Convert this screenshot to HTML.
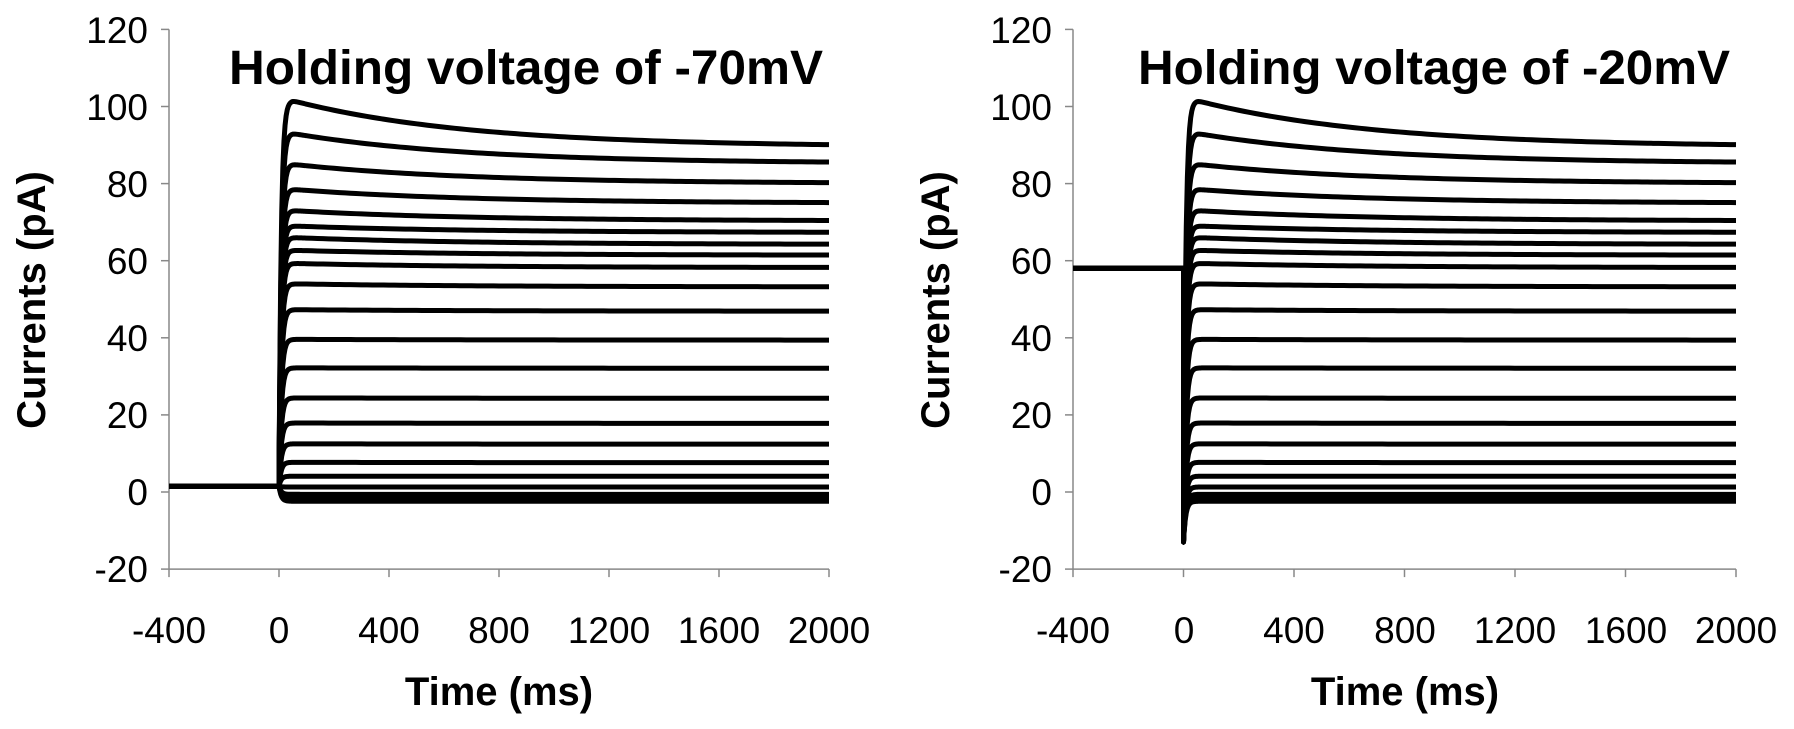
<!DOCTYPE html>
<html><head><meta charset="utf-8"><style>
html,body{margin:0;padding:0;background:#fff;}
svg{display:block;font-family:"Liberation Sans",Arial,sans-serif;}
</style></head><body>
<svg id="s" width="1794" height="729" viewBox="0 0 1794 729">
<g id="p1">
<text x="526" y="84" font-size="48" font-weight="bold" text-anchor="middle" textLength="594" lengthAdjust="spacingAndGlyphs">Holding voltage of -70mV</text>
<g font-size="37" text-anchor="end">
<text x="148" y="43">120</text><text x="148" y="120">100</text><text x="148" y="197">80</text><text x="148" y="274">60</text><text x="148" y="351">40</text><text x="148" y="428">20</text><text x="148" y="505">0</text><text x="148" y="582">-20</text>
</g>
<g font-size="37" text-anchor="middle">
<text x="169" y="643">-400</text><text x="279" y="643">0</text><text x="389" y="643">400</text><text x="499" y="643">800</text><text x="609" y="643">1200</text><text x="719" y="643">1600</text><text x="829" y="643">2000</text>
</g>
<text x="499" y="705" font-size="40" font-weight="bold" text-anchor="middle">Time (ms)</text>
<text transform="translate(45,300) rotate(-90)" font-size="40" font-weight="bold" text-anchor="middle">Currents (pA)</text>
</g>
<g id="p2">
<text x="1434" y="84" font-size="48" font-weight="bold" text-anchor="middle" textLength="592" lengthAdjust="spacingAndGlyphs">Holding voltage of -20mV</text>
<g font-size="37" text-anchor="end">
<text x="1052" y="43">120</text><text x="1052" y="120">100</text><text x="1052" y="197">80</text><text x="1052" y="274">60</text><text x="1052" y="351">40</text><text x="1052" y="428">20</text><text x="1052" y="505">0</text><text x="1052" y="582">-20</text>
</g>
<g font-size="37" text-anchor="middle">
<text x="1073" y="643">-400</text><text x="1184" y="643">0</text><text x="1294" y="643">400</text><text x="1405" y="643">800</text><text x="1515" y="643">1200</text><text x="1626" y="643">1600</text><text x="1736" y="643">2000</text>
</g>
<text x="1405" y="705" font-size="40" font-weight="bold" text-anchor="middle">Time (ms)</text>
<text transform="translate(949,300) rotate(-90)" font-size="40" font-weight="bold" text-anchor="middle">Currents (pA)</text>
</g>
</svg>
<script>
var s=document.getElementById('s'),NS='http://www.w3.org/2000/svg';
function el(t,a){var e=document.createElementNS(NS,t);for(var k in a)e.setAttribute(k,a[k]);s.appendChild(e);return e;}
var ends=[89.5,85.2,80,74.9,70.3,67.3,64.2,61.4,58.2,53.2,46.9,39.4,32.1,24.3,17.8,12.4,7.6,4.1,1.3,-0.6,-1.6,-2.4];
var peaks=[101.5,93,85,78.5,73,69,66,62.7,59.3,54,47.3,39.6,32.2,24.4,17.9,12.5,7.7,4.1,1.3,-0.6,-1.6,-2.4];
function plot(x0,x1,hold,spike){
  var Y=function(v){return 492-v*3.855;};
  var X=function(t){return x0+(t+400)*(x1-x0)/2400;};
  el('line',{x1:x0,y1:Y(120),x2:x0,y2:Y(-20),stroke:'#888','stroke-width':1.5});
  el('line',{x1:x0,y1:Y(-20),x2:x1,y2:Y(-20),stroke:'#888','stroke-width':1.5});
  for(var v=-20;v<=120;v+=20)el('line',{x1:x0-8,y1:Y(v),x2:x0,y2:Y(v),stroke:'#888','stroke-width':1.5});
  for(var t=-400;t<=2000;t+=400)el('line',{x1:X(t),y1:Y(-20),x2:X(t),y2:Y(-20)+8,stroke:'#888','stroke-width':1.5});
  for(var i=0;i<ends.length;i++){
    var p=peaks[i],e=ends[i],d='M'+X(-400)+','+Y(hold)+' L'+X(0)+','+Y(hold);
    if(spike!==null)d+=' L'+X(0)+','+Y(spike);
    var st=(spike!==null)?spike:hold;
    var ts=[];for(var t=2;t<100;t+=4)ts.push(t);for(var t=100;t<=2000;t+=20)ts.push(t);
    ts.forEach(function(t){
      var rise=1-Math.exp(-t/8);
      var v=e+(p-e)*Math.exp(-Math.max(0,t-50)/650);
      d+=' L'+X(t)+','+Y(st+(v-st)*rise);
    });
    el('path',{d:d,fill:'none',stroke:'#000','stroke-width':5,'stroke-linejoin':'round'});
  }
}
plot(169,829,1.5,null);
plot(1073,1736,58,-13);
</script>
</body></html>
